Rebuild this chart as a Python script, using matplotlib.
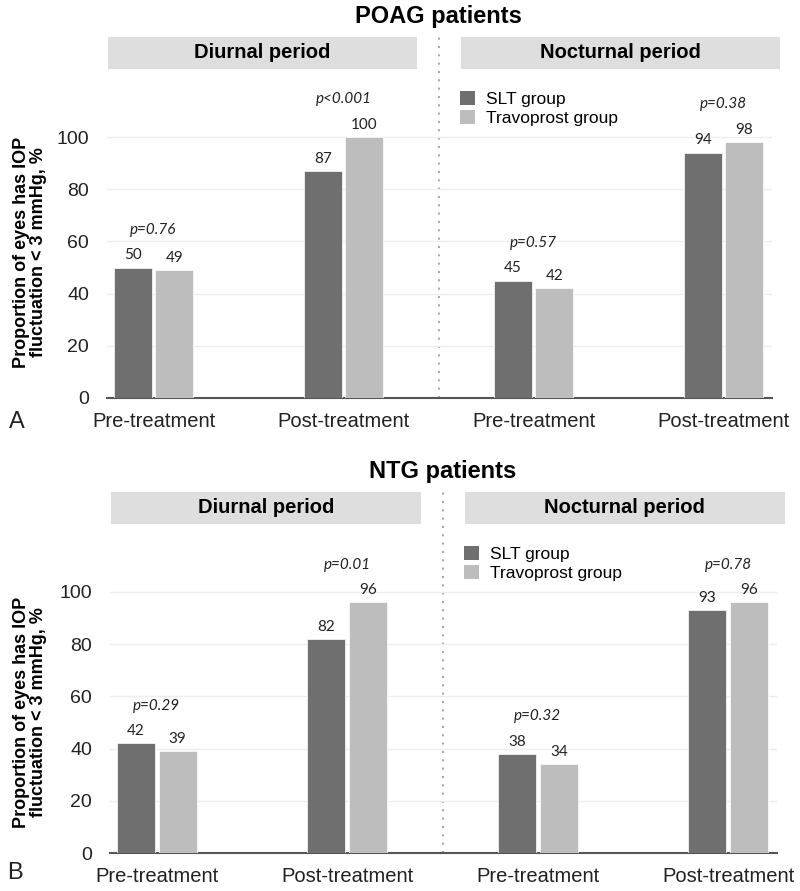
import numpy as np
import matplotlib
matplotlib.use('Agg')
import matplotlib.pyplot as plt
from matplotlib.patches import Rectangle, Patch

plt.rcParams['font.family'] = ['Liberation Sans', 'DejaVu Sans']

# data
categories = ['Pre-treatment', 'Post-treatment', 'Pre-treatment', 'Post-treatment']
periods = ['Diurnal period', 'Nocturnal period']
series_names = ['SLT group', 'Travoprost group']

poag_slt = [50, 87, 45, 94]
poag_trav = [49, 100, 42, 98]
poag_p = ['p=0.76', 'p<0.001', 'p=0.57', 'p=0.38']

ntg_slt = [42, 82, 38, 93]
ntg_trav = [39, 96, 34, 96]
ntg_p = ['p=0.29', 'p=0.01', 'p=0.32', 'p=0.78']

yticks = [0, 20, 40, 60, 80, 100]

DARK = '#6f6f6f'
LIGHT = '#bdbdbd'
BOX = '#dedede'

fig = plt.figure(figsize=(8, 8.91), dpi=100)


def panel(ax, title, slt, trav, pvals):
    x = np.arange(len(categories))
    ax.bar(x - 0.11, slt, width=0.2, color=DARK, edgecolor='white', linewidth=0.5, zorder=3)
    ax.bar(x + 0.11, trav, width=0.2, color=LIGHT, edgecolor='white', linewidth=0.5, zorder=3)

    for i in range(len(x)):
        ax.text(x[i] - 0.11, slt[i] + 2, str(slt[i]), ha='center', va='bottom',
                fontsize=11, family=['Lato', 'DejaVu Sans'], color='#222222')
        ax.text(x[i] + 0.11, trav[i] + 2, str(trav[i]), ha='center', va='bottom',
                fontsize=11, family=['Lato', 'DejaVu Sans'], color='#222222')
        ax.text(x[i], max(slt[i], trav[i]) + 14.5, pvals[i], ha='center', va='center',
                fontsize=11, style='italic', family=['Lato', 'DejaVu Sans'], color='#222222')

    ax.set_xlim(-0.245, 3.255)
    ax.set_ylim(0, 140)
    ax.set_yticks(yticks)
    ax.set_xticks(x)
    ax.set_xticklabels(categories)
    ax.tick_params(axis='x', length=0, pad=10, labelsize=14.5, labelcolor='#222222')
    ax.tick_params(axis='y', length=0, pad=13, labelsize=14, labelcolor='#222222')
    for s in ['top', 'right', 'left']:
        ax.spines[s].set_visible(False)
    ax.spines['bottom'].set_color('#555555')
    ax.spines['bottom'].set_linewidth(1.5)
    ax.grid(axis='y', color='#eeeeee', linewidth=1, zorder=0)

    # period headers
    ax.add_patch(Rectangle((-0.24, 126), 1.627, 12.3, facecolor=BOX, edgecolor='none', clip_on=False))
    ax.add_patch(Rectangle((1.618, 126), 1.679, 12.3, facecolor=BOX, edgecolor='none', clip_on=False))
    ax.text(0.574, 132.2, periods[0], ha='center', va='center', fontsize=14.5, fontweight='bold')
    ax.text(2.457, 132.2, periods[1], ha='center', va='center', fontsize=14.5, fontweight='bold',
            clip_on=False)
    ax.plot([1.5, 1.5], [0, 138.3], color='#aaaaaa', linestyle=(0, (1, 3)), linewidth=1.5,
            clip_on=False, zorder=1)

    ax.text(1.5, 146, title, ha='center', va='center', fontsize=17, fontweight='bold', clip_on=False)

    handles = [Patch(facecolor=DARK), Patch(facecolor=LIGHT)]
    ax.legend(handles, series_names, loc='upper left', bbox_to_anchor=(1.615, 117.5),
              bbox_transform=ax.transData, frameon=False, fontsize=12.5, borderpad=0,
              borderaxespad=0, handlelength=0.85, handleheight=0.85, handletextpad=0.6,
              labelspacing=0.15)


ax1 = fig.add_axes([107 / 800, 1 - 398 / 891, 665 / 800, 140 * 2.61 / 891])
panel(ax1, 'POAG patients', poag_slt, poag_trav, poag_p)
ax2 = fig.add_axes([110 / 800, 1 - 853 / 891, 667 / 800, 140 * 2.61 / 891])
panel(ax2, 'NTG patients', ntg_slt, ntg_trav, ntg_p)

ylab = 'Proportion of eyes has IOP\nfluctuation < 3 mmHg, %'
fig.text(30 / 800, 1 - 252 / 891, ylab, rotation=90, ha='center', va='center', fontsize=13,
         fontweight='bold', multialignment='center', linespacing=1.0)
fig.text(30 / 800, 1 - 712 / 891, ylab, rotation=90, ha='center', va='center', fontsize=13,
         fontweight='bold', multialignment='center', linespacing=1.0)

fig.text(17 / 800, 1 - 422 / 891, 'A', fontsize=17, ha='center', va='center', color='#222222')
fig.text(15 / 800, 1 - 873 / 891, 'B', fontsize=17, ha='center', va='center', color='#222222')

fig.savefig('out.png', dpi=100)
